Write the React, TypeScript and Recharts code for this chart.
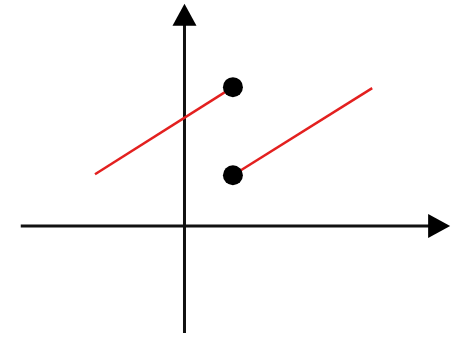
import React from 'react';
import { ComposedChart, Scatter, XAxis, YAxis } from 'recharts';

// Axis lines (data units)
const xAxisLine = [{ x: -3.55, y: 0 }, { x: 5.6, y: 0 }];
const yAxisLine = [{ x: 0, y: -2.32 }, { x: 0, y: 4.7 }];
const xArrowTip = [{ x: 5.76, y: 0 }];
const yArrowTip = [{ x: 0, y: 4.82 }];

// Piecewise segments
const segmentLeft = [{ x: -1.94, y: 1.12 }, { x: 1.05, y: 3.01 }];
const segmentRight = [{ x: 1.05, y: 1.1 }, { x: 4.07, y: 2.99 }];
const endpoints = [{ x: 1.05, y: 3.01 }, { x: 1.05, y: 1.1 }];

const xDomain: [number, number] = [-4, 5.8];
const yDomain: [number, number] = [-2.43, 4.9];

const RightArrow = (props: any) => {
  const { cx, cy } = props;
  return <polygon points={`${cx},${cy} ${cx - 22},${cy - 12} ${cx - 22},${cy + 12}`} fill="#000" />;
};
const UpArrow = (props: any) => {
  const { cx, cy } = props;
  return <polygon points={`${cx},${cy} ${cx - 12},${cy + 22} ${cx + 12},${cy + 22}`} fill="#000" />;
};
const Dot = (props: any) => {
  const { cx, cy } = props;
  return <circle cx={cx} cy={cy} r={10} fill="#000" />;
};
const NoShape = () => <g />;

export default function App() {
  return (
    <div style={{ position: 'absolute', left: 0, top: 0, width: 452, height: 338, background: '#fff' }}>
      <ComposedChart width={452} height={338} margin={{ top: 0, right: 0, bottom: 0, left: 0 }}>
        <XAxis type="number" dataKey="x" domain={xDomain} hide allowDataOverflow />
        <YAxis type="number" dataKey="y" domain={yDomain} hide allowDataOverflow />
        <Scatter data={xAxisLine} dataKey="y" line={{ stroke: '#111', strokeWidth: 3 }} shape={NoShape} isAnimationActive={false} />
        <Scatter data={yAxisLine} dataKey="y" line={{ stroke: '#111', strokeWidth: 3 }} shape={NoShape} isAnimationActive={false} />
        <Scatter data={segmentLeft} dataKey="y" line={{ stroke: '#e3201f', strokeWidth: 2.5 }} shape={NoShape} isAnimationActive={false} />
        <Scatter data={segmentRight} dataKey="y" line={{ stroke: '#e3201f', strokeWidth: 2.5 }} shape={NoShape} isAnimationActive={false} />
        <Scatter data={xArrowTip} dataKey="y" shape={RightArrow} isAnimationActive={false} />
        <Scatter data={yArrowTip} dataKey="y" shape={UpArrow} isAnimationActive={false} />
        <Scatter data={endpoints} dataKey="y" shape={Dot} isAnimationActive={false} />
      </ComposedChart>
    </div>
  );
}
